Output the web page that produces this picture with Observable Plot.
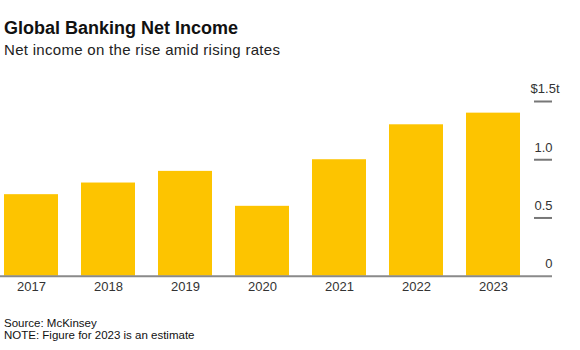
<!DOCTYPE html>
<html>
<head>
<meta charset="utf-8">
<script src="https://cdn.jsdelivr.net/npm/d3@7"></script>
<script src="https://cdn.jsdelivr.net/npm/@observablehq/plot@0.6"></script>
<style>
  body { margin: 0; background: #fff; font-family: "Liberation Sans", Arial, Helvetica, sans-serif; }
  #wrap { width: 580px; }
  .title { margin: 17px 0 0 4px; font-size: 18px; line-height: 22px; font-weight: bold; color: #111; }
  .subtitle { margin: 2px 0 0 4px; font-size: 15px; line-height: 18px; color: #222; letter-spacing: 0.3px; }
  #chart { margin-top: 1px; height: 257px; }
  #chart svg { display: block; }
  .caption { margin: 0 0 0 4px; font-size: 11.5px; line-height: 12px; color: #111; }
  .caption div { height: 12px; line-height: 12px; }
</style>
</head>
<body>
<div id="wrap">
  <div class="title">Global Banking Net Income</div>
  <div class="subtitle">Net income on the rise amid rising rates</div>
  <div id="chart"></div>
  <div class="caption"><div>Source: McKinsey</div><div>NOTE: Figure for 2023 is an estimate</div></div>
</div>
<script>
const years = ["2017", "2018", "2019", "2020", "2021", "2022", "2023"];
const netIncome = [0.70, 0.80, 0.90, 0.60, 1.00, 1.30, 1.40];
const yTicks = [0, 0.5, 1.0];
const yTickLabels = ["0", "0.5", "1.0"];
const yTopTick = 1.5;
const yTopLabel = "$1.5t";

const data = years.map((y, i) => ({year: y, value: netIncome[i]}));
const tickData = yTicks.map((v, i) => ({v, label: yTickLabels[i]}));
const allTicks = [...yTicks, yTopTick];

const chart = Plot.plot({
  width: 580,
  height: 257,
  marginLeft: 0,
  marginRight: 28,
  marginTop: 41,
  marginBottom: 41.3,
  style: {fontFamily: '"Liberation Sans", Arial, sans-serif', fontSize: "13px", color: "#333", background: "#fff"},
  x: {domain: years, range: [4, 520], paddingInner: 0.3, paddingOuter: 0, label: null},
  y: {domain: [0, 1.5], label: null, axis: null},
  marks: [
    Plot.barY(data, {x: "year", y: "value", fill: "#fdc400"}),
    Plot.ruleY(allTicks.filter(v => v > 0), {y: d => d, insetLeft: 534, stroke: "#777", strokeWidth: 2}),
    Plot.ruleY([0], {stroke: "#8a8a8a", strokeWidth: 2}),
    Plot.text(tickData, {y: "v", text: "label", frameAnchor: "right", textAnchor: "end", dy: -12, fill: "#333", fontSize: 13}),
    Plot.text([yTopTick], {y: d => d, text: () => yTopLabel, frameAnchor: "right", textAnchor: "end", dx: 7, dy: -13, fill: "#333", fontSize: 13}),
    Plot.axisX({tickSize: 0, tickPadding: 6, fontSize: 13, fill: "#333", label: null})
  ]
});
document.getElementById("chart").appendChild(chart);
</script>
</body>
</html>
